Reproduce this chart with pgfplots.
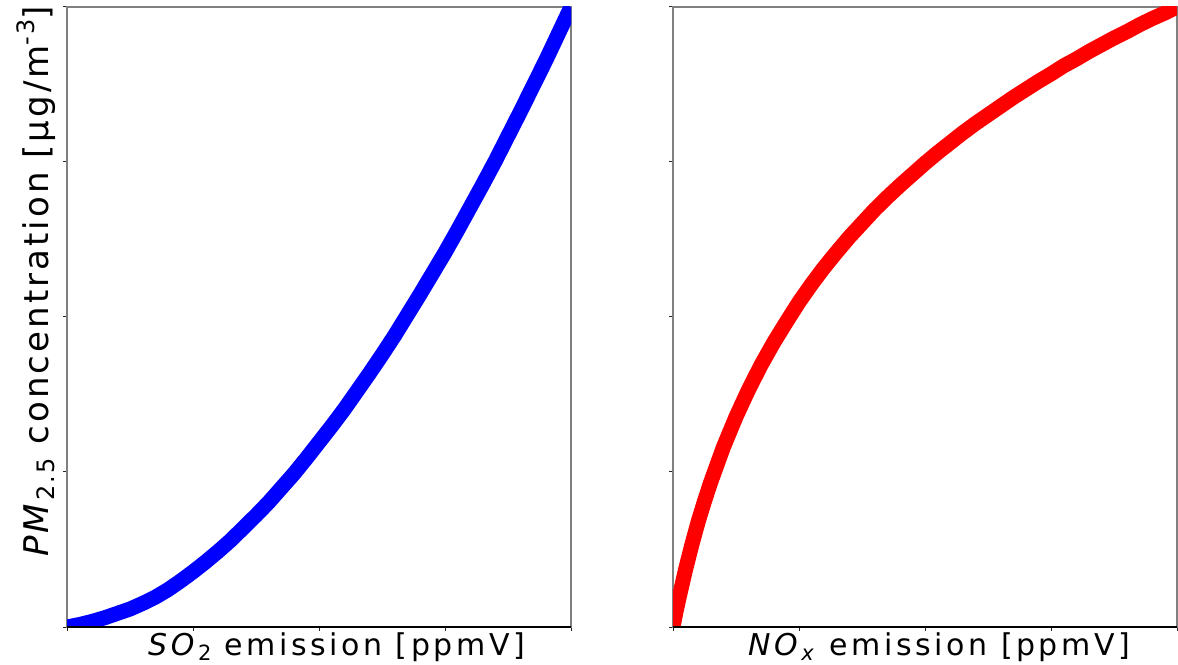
\documentclass[border=0pt]{standalone}
\usepackage{fontspec}
\setmainfont{DejaVu Sans}
\newfontfamily\xlblfont{DejaVu Sans}[LetterSpace=12]
\newfontfamily\ylblfont{DejaVu Sans}[LetterSpace=9]
\usepackage{pgfplots}
\pgfplotsset{compat=1.18}

\pgfplotsset{panel/.style={
    scale only axis, width=504pt, height=620pt,
    anchor=south west,
    xmin=0, xmax=1, ymin=0, ymax=1,
    xtick={0,0.25,0.5,0.75,1}, ytick={0,0.25,0.5,0.75,1},
    xticklabels={}, yticklabels={},
    tick align=outside, tick pos=left,
    major tick length=4pt,
    tick style={black!85, line width=1pt},
    axis line style={black!50, line width=1.6pt},
    extra description/.code={\draw[black, line width=1.6pt] (0,0) -- (1,0);},
}}
\newcommand{\lsub}[1]{\raisebox{-5pt}{\fontsize{21}{21}\selectfont #1}}

\begin{document}
\begin{tikzpicture}[x=1pt,y=1pt]
\useasboundingbox (0,0) rectangle (1178,664);

% SO2 panel
\begin{axis}[panel, at={(67pt,37pt)}]
\addplot[blue, line width=15pt, line join=round] coordinates {
  (0,0) (0.025,0.004) (0.05,0.009) (0.075,0.015) (0.1,0.022) (0.125,0.029)
  (0.15,0.038) (0.175,0.048) (0.2,0.060) (0.225,0.074) (0.25,0.089)
  (0.275,0.105) (0.3,0.122) (0.325,0.140) (0.35,0.160) (0.375,0.180)
  (0.4,0.201) (0.425,0.224) (0.45,0.247) (0.475,0.272) (0.5,0.298)
  (0.525,0.324) (0.55,0.351) (0.575,0.380) (0.6,0.409) (0.625,0.439)
  (0.65,0.470) (0.675,0.503) (0.7,0.536) (0.725,0.570) (0.75,0.604)
  (0.775,0.640) (0.8,0.677) (0.825,0.714) (0.85,0.752) (0.875,0.792)
  (0.9,0.832) (0.925,0.873) (0.95,0.914) (0.975,0.957) (1,1)};
\end{axis}

% NOx panel
\begin{axis}[panel, at={(673pt,37pt)}]
\addplot[red, line width=15pt, line join=round] coordinates {
  (0,0) (0.00625,0.026) (0.0125,0.049) (0.01875,0.071) (0.025,0.093)
  (0.0375,0.133) (0.05,0.170) (0.0625,0.203) (0.075,0.234) (0.0875,0.262)
  (0.1,0.290) (0.125,0.339) (0.15,0.383) (0.175,0.423) (0.2,0.459)
  (0.225,0.492) (0.25,0.524) (0.275,0.553) (0.3,0.580) (0.325,0.605)
  (0.35,0.629) (0.375,0.651) (0.4,0.673) (0.425,0.693) (0.45,0.712)
  (0.475,0.730) (0.5,0.748) (0.525,0.765) (0.55,0.781) (0.575,0.797)
  (0.6,0.812) (0.625,0.826) (0.65,0.840) (0.675,0.854) (0.7,0.867)
  (0.725,0.880) (0.75,0.892) (0.775,0.905) (0.8,0.916) (0.825,0.928)
  (0.85,0.939) (0.875,0.950) (0.9,0.960) (0.925,0.971) (0.95,0.981)
  (0.975,0.990) (1,1)};
\end{axis}

\node[anchor=base west, inner sep=0pt, font=\xlblfont\fontsize{30}{36}\selectfont]
  at (148,9) {\textit{SO}\lsub{2} emission [ppmV]};
\node[anchor=base west, inner sep=0pt, font=\xlblfont\fontsize{30}{36}\selectfont]
  at (748,9) {\textit{NO}\lsub{\textit{x}} emission [ppmV]};
\node[anchor=base west, rotate=90, inner sep=0pt, font=\ylblfont\fontsize{34}{40}\selectfont]
  at (48,107) {\textit{PM}\raisebox{-6pt}{\fontsize{24}{24}\selectfont 2.5} concentration [µg/m\raisebox{14pt}{\fontsize{24}{24}\selectfont -3}]};
\end{tikzpicture}
\end{document}
